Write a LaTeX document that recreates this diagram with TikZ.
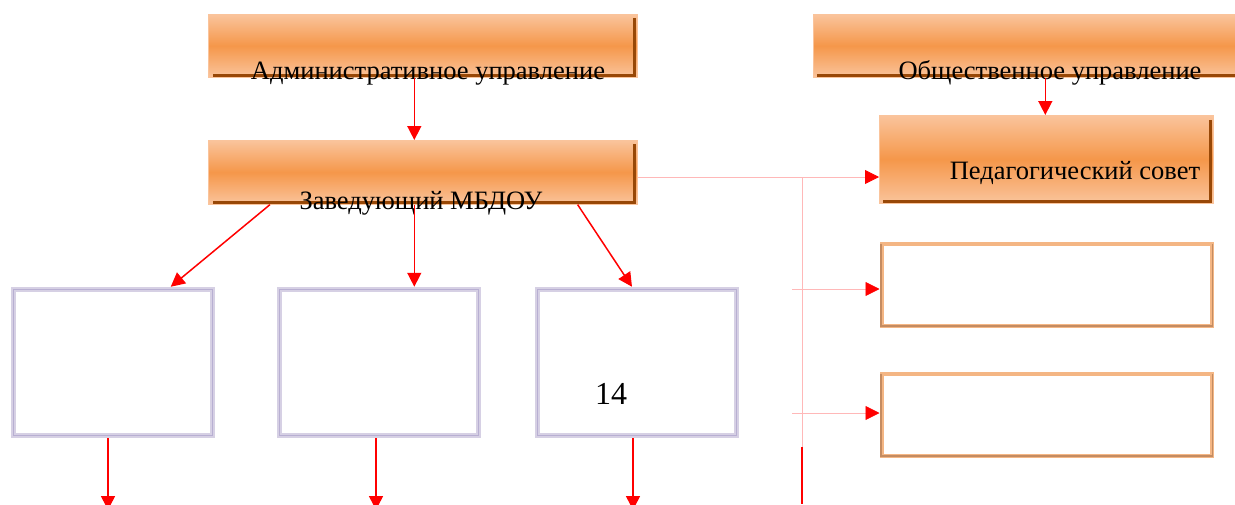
\documentclass[tikz,border=0pt]{standalone}
\usepackage{fontspec}
\setmainfont{Liberation Serif}
\usetikzlibrary{arrows.meta}
\definecolor{orgmid}{HTML}{F5974A}
\definecolor{orglight}{HTML}{FAC49C}
\definecolor{shadowbrown}{HTML}{984807}
\definecolor{lav}{HTML}{D6D0E4}
\definecolor{lavdark}{HTML}{B8AFD2}
\definecolor{tanline}{HTML}{F4B684}
\definecolor{tandark}{HTML}{C48C62}
\definecolor{pinkline}{HTML}{FFB8B8}
\definecolor{arrred}{HTML}{FF0000}
\begin{document}
\begin{tikzpicture}[x=1pt,y=-1pt,
  obox/.style={rectangle, inner sep=0pt, anchor=north west, draw=orglight, line width=0.6pt,
    top color=orglight, bottom color=orglight, middle color=orgmid},
  shade/.style={draw=shadowbrown, line width=3pt},
  lbox/.style={rectangle, inner sep=0pt, draw=lav, line width=5.5pt},
  lin/.style={draw=lavdark, line width=0.9pt},
  tbox/.style={rectangle, inner sep=0pt, draw=tanline, line width=4pt},
  tin/.style={draw=tandark, line width=1.6pt},
  txt/.style={inner sep=0pt, anchor=base, font=\fontsize{26.5}{30}\selectfont},
  arr/.style={draw=arrred, line width=1.5pt, -{Triangle[length=14pt,width=14pt]}},
  parr/.style={draw=pinkline, line width=0.8pt, -{Triangle[length=14pt,width=14pt,color=arrred,fill=arrred]}},
  pline/.style={draw=pinkline, line width=0.8pt}
]
\clip (0,0) rectangle (1235,504);
\fill[white] (0,0) rectangle (1235,504);

% orange boxes
\node[obox, minimum width=429pt, minimum height=63pt] (adm) at (208,14) {};
\draw[shade] ([shift={(5,-2)}]adm.south west) -- ([shift={(-3,-2)}]adm.south east) -- ([shift={(-3,4)}]adm.north east);
\node[obox, minimum width=429pt, minimum height=64pt] (zav) at (208,140) {};
\draw[shade] ([shift={(5,-2)}]zav.south west) -- ([shift={(-3,-2)}]zav.south east) -- ([shift={(-3,4)}]zav.north east);
\node[obox, minimum width=430pt, minimum height=63pt] (obs) at (813,14) {};
\draw[shade] ([shift={(4,-2)}]obs.south west) -- ([shift={(-3,-2)}]obs.south east);
\node[obox, minimum width=334pt, minimum height=88pt] (ped) at (879,115) {};
\draw[shade] ([shift={(4,-2)}]ped.south west) -- ([shift={(-3,-2)}]ped.south east) -- ([shift={(-3,5)}]ped.north east);

% texts
\node[txt] (admt) at (428,79.5) {Административное управление};
\node[txt] (zavt) at (421,209) {Заведующий МБДОУ};
\node[txt] (obst) at (1050,79.5) {Общественное управление};
\node[txt] (pedt) at (1075,179) {Педагогический совет};

% lavender boxes
\node[lbox, minimum width=199pt, minimum height=146pt] (b1) at (113,362.5) {};
\node[lbox, minimum width=199pt, minimum height=146pt] (b2) at (379,362.5) {};
\node[lbox, minimum width=199pt, minimum height=146pt] (b3) at (637,362.5) {};
\foreach \b in {b1,b2,b3}{
  \draw[lin] ([shift={(3,3)}]\b.north west) rectangle ([shift={(-3,-3)}]\b.south east);
}
\node[txt, font=\fontsize{32}{36}\selectfont] (n14) at (611,404.3) {14};

% tan boxes
\node[tbox, minimum width=330pt, minimum height=82pt] (ta) at (1046.5,284.5) {};
\node[tbox, minimum width=330pt, minimum height=82pt] (tb) at (1046.5,414.5) {};
\foreach \b in {ta,tb}{
  \draw[tin] ([shift={(1.5,2)}]\b.north west) -- ([shift={(1.5,-1.5)}]\b.south west) -- ([shift={(-1,-1.5)}]\b.south east) -- ([shift={(-1,2)}]\b.north east);
}

% arrows
\draw[arr] ([xshift=-8.5pt]adm.south) -- ([xshift=-8.5pt]zav.north);
\draw[arr] ([xshift=-8.5pt]zav.south) -- ([xshift=-8.5pt]zav.south |- b2.north);
\draw[arr] ([shift={(62,0)}]zav.south west) -- ([shift={(160,0)}]b1.north west);
\draw[arr] ([shift={(-60,0)}]zav.south east) -- ([shift={(-5,0)}]b3.north);
\draw[arr] ([xshift=17pt]obs.south) -- ([xshift=17pt]obs.south |- ped.north);

\coordinate (e1) at (108,510);
\coordinate (e2) at (376,510);
\coordinate (e3) at (633,510);
\draw[arr] (b1.south -| e1) -- (e1);
\draw[arr] (b2.south -| e2) -- (e2);
\draw[arr] (b3.south -| e3) -- (e3);

% right-hand connector
\coordinate (j0) at (802,177);
\coordinate (j1) at (802,447);
\coordinate (j2) at (802,504);
\coordinate (r1) at (792,289);
\coordinate (r2) at (792,413);
\draw[pline] (zav.east |- j0) -- (j0);
\draw[parr] (j0) -- (ped.west |- j0);
\draw[pline] (j0) -- (j1);
\draw[arr, -] (j1) -- (j2);
\draw[parr] (r1) -- (ta.west |- r1);
\draw[parr] (r2) -- (tb.west |- r2);
\end{tikzpicture}
\end{document}
